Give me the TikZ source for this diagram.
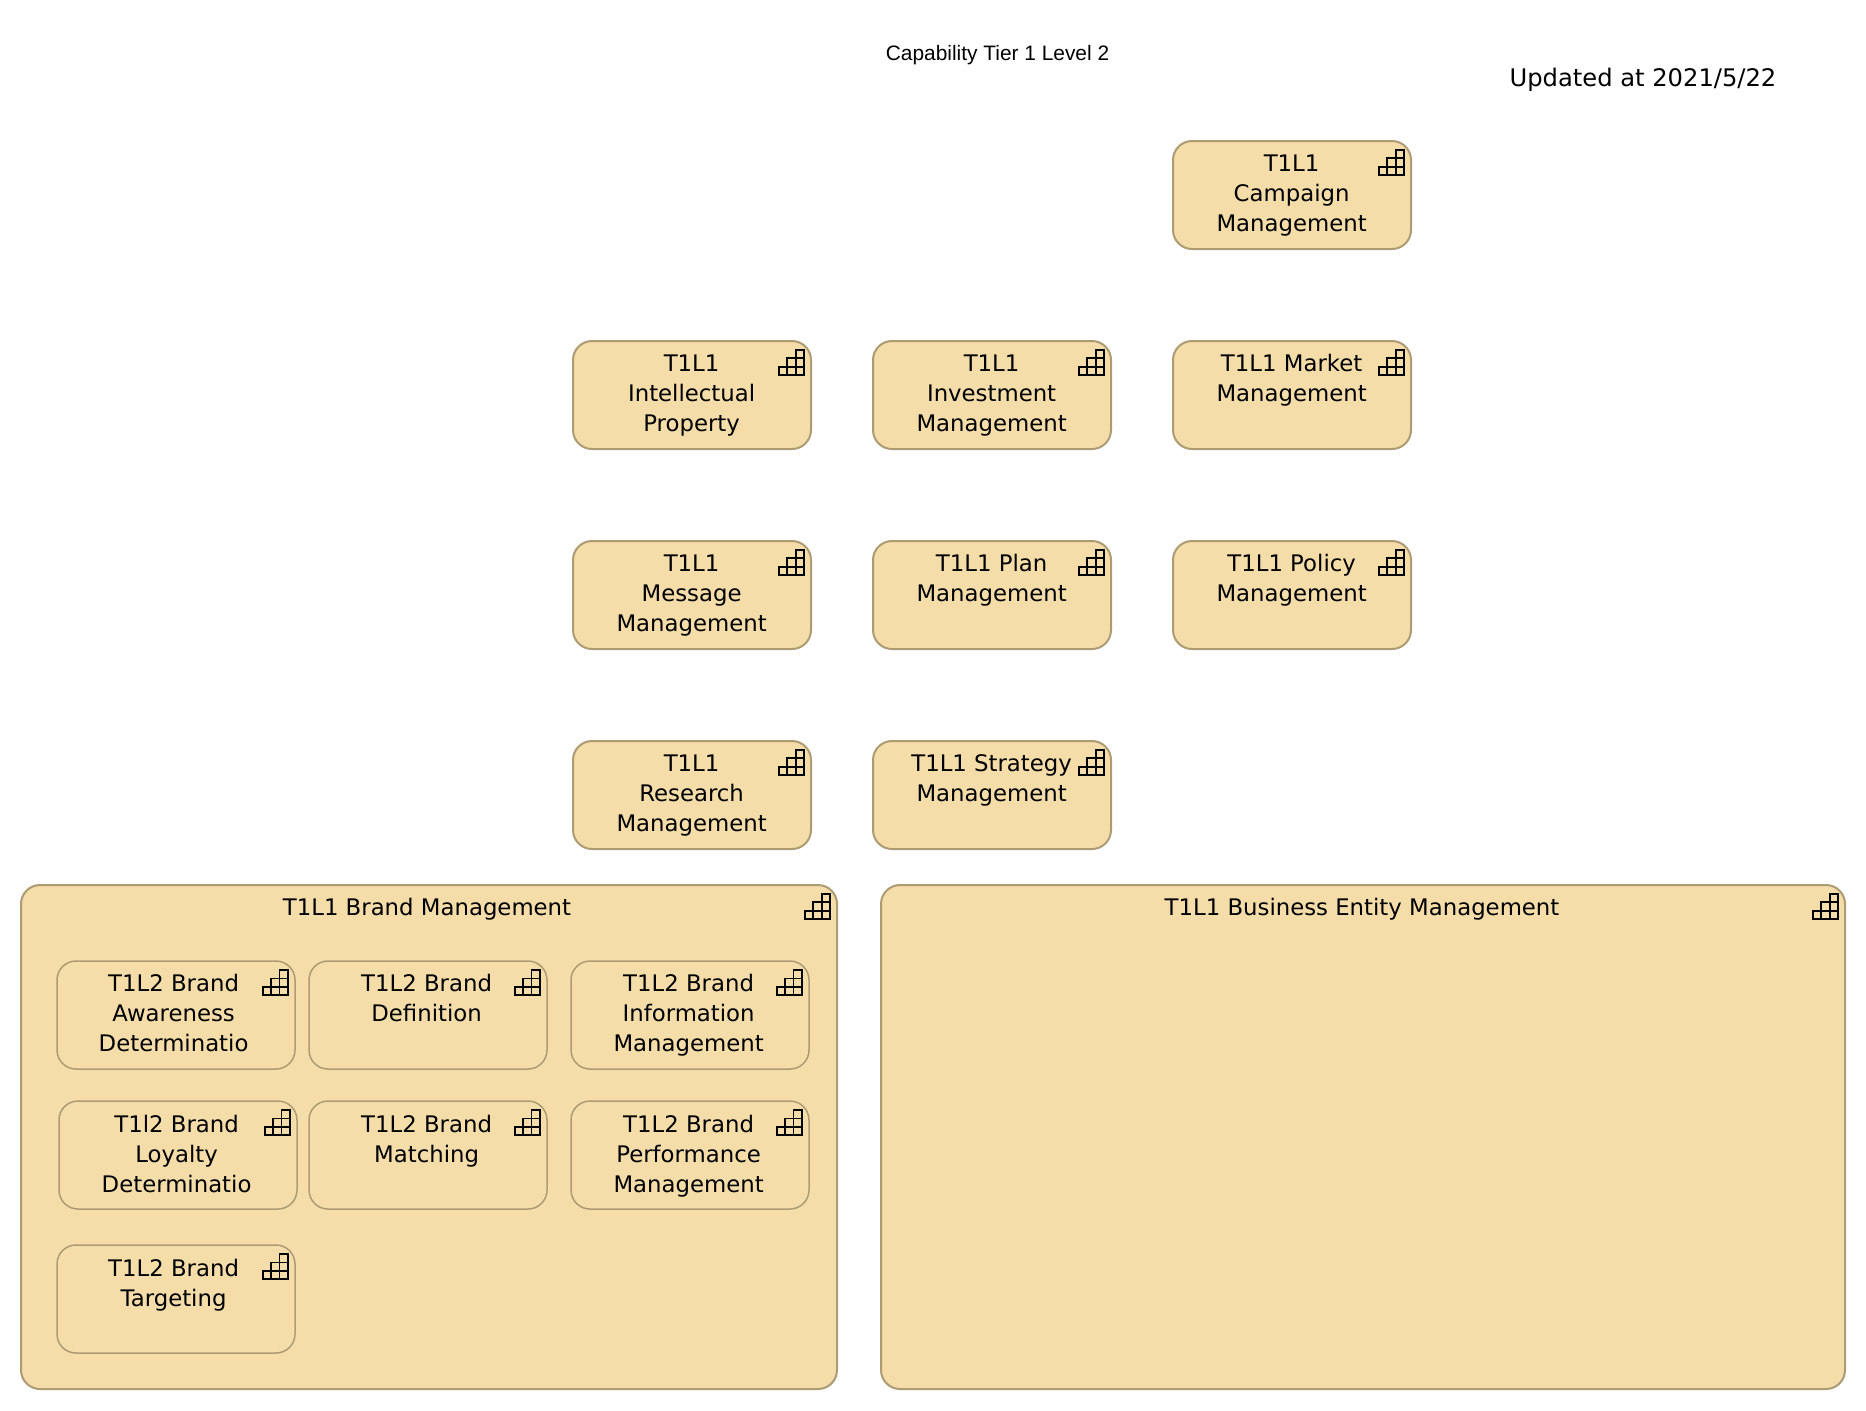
\documentclass[tikz,border=0pt]{standalone}
\usepackage{fontspec}
\setmainfont{DejaVu Sans}
\newfontfamily\titlefont{Liberation Sans}
\definecolor{capfill}{HTML}{F5DDA9}
\definecolor{capline}{HTML}{AD9B74}
\tikzset{
    capblock/.style = {draw=capline, fill=capfill, line width=1pt, rectangle, rounded corners=9.5pt,
        minimum height=54pt, minimum width=119pt, inner sep=0pt},
    capinner/.style = {capblock, line width=.75pt},
    captext/.style = {anchor=north, align=center, inner sep=0pt, yshift=-7pt, xshift=-.2pt,
        font=\fontsize{11.4}{15}\selectfont},
    stairs/.style = {draw=black, line width=.85pt, line join=miter}
}
\def\stairs{%
    +(-16.3,18.3) -- +(-8,18.3) +(-24.7,26.7) -- +(-8,26.7) +(-16.3,18.3) -- +(-16.3,35) +(-24.7,26.7) -- +(-24.7,35)
    +(-33,35) -- +(-8,35) -- +(-8,10) -- +(-16.3,10) -- +(-16.3,18.3) -- +(-24.7,18.3) -- +(-24.7,26.7) -- +(-33,26.7) -- cycle
}
\begin{document}
\begin{tikzpicture}[x=.5pt, y=-.5pt, node distance=100pt]
        \useasboundingbox (0,0) rectangle (1866,1410);
        \node [font=\titlefont\fontsize{10.45}{12}\selectfont, inner sep=0pt] (title) at (997.5,55.5) {Capability Tier 1 Level 2};
        \node [font=\fontsize{12.1}{15}\selectfont, inner sep=0pt] (updated) at (1643,79.5) {Updated at 2021/5/22};
        % top grid, right column first
        \node [capblock] (campaign) at (1292,195) {};
        \node [capblock, below of=campaign] (market) {};
        \node [capblock, below of=market] (policy) {};
        \node [capblock, left of=market, node distance=150pt] (investment) {};
        \node [capblock, left of=investment, node distance=150pt] (property) {};
        \node [capblock, left of=policy, node distance=150pt] (plan) {};
        \node [capblock, left of=plan, node distance=150pt] (message) {};
        \node [capblock, below of=plan] (strategy) {};
        \node [capblock, below of=message] (research) {};
        \node [captext] (campaigntext) at (campaign.north) {T1L1\\Campaign\\Management};
        \node [captext] (markettext) at (market.north) {T1L1 Market\\Management};
        \node [captext] (policytext) at (policy.north) {T1L1 Policy\\Management};
        \node [captext] (investmenttext) at (investment.north) {T1L1\\Investment\\Management};
        \node [captext] (propertytext) at (property.north) {T1L1\\Intellectual\\Property};
        \node [captext] (plantext) at (plan.north) {T1L1 Plan\\Management};
        \node [captext] (messagetext) at (message.north) {T1L1\\Message\\Management};
        \node [captext] (strategytext) at (strategy.north) {T1L1 Strategy\\Management};
        \node [captext] (researchtext) at (research.north) {T1L1\\Research\\Management};
        % the two large blocks
        \node [capblock, minimum width=408pt, minimum height=252pt] (brand) at (429,1137) {};
        \node [capblock, minimum width=482pt, minimum height=252pt] (entity) at (1363,1137) {};
        \node [captext, xshift=-.8pt] (brandtext) at (brand.north) {T1L1 Brand Management};
        \node [captext, xshift=-.3pt] (entitytext) at (entity.north) {T1L1 Business Entity Management};
        % blocks inside brand
        \node [capinner] (awareness) at (176,1015) {};
        \node [capinner, right of=awareness, node distance=126pt] (definition) {};
        \node [capinner, right of=definition, node distance=131pt] (information) {};
        \node [capinner] (loyalty) at (178,1155) {};
        \node [capinner, below of=definition, node distance=70pt] (matching) {};
        \node [capinner, below of=information, node distance=70pt] (performance) {};
        \node [capinner] (targeting) at (176,1299) {};
        \node [captext, xshift=-1pt] (awarenesstext) at (awareness.north) {T1L2 Brand\\Awareness\\Determinatio};
        \node [captext, xshift=-.5pt] (definitiontext) at (definition.north) {T1L2 Brand\\Definition};
        \node [captext, xshift=-.5pt] (informationtext) at (information.north) {T1L2 Brand\\Information\\Management};
        \node [captext, xshift=-.5pt] (loyaltytext) at (loyalty.north) {T1l2 Brand\\Loyalty\\Determinatio};
        \node [captext, xshift=-.5pt] (matchingtext) at (matching.north) {T1L2 Brand\\Matching};
        \node [captext, xshift=-.5pt] (performancetext) at (performance.north) {T1L2 Brand\\Performance\\Management};
        \node [captext, xshift=-1pt] (targetingtext) at (targeting.north) {T1L2 Brand\\Targeting};
        % capability icons
        \draw [stairs] (campaign.north east) \stairs;
        \draw [stairs] (market.north east) \stairs;
        \draw [stairs] (policy.north east) \stairs;
        \draw [stairs] (investment.north east) \stairs;
        \draw [stairs] (property.north east) \stairs;
        \draw [stairs] (plan.north east) \stairs;
        \draw [stairs] (message.north east) \stairs;
        \draw [stairs] (strategy.north east) \stairs;
        \draw [stairs] (research.north east) \stairs;
        \draw [stairs] (brand.north east) \stairs;
        \draw [stairs] (entity.north east) \stairs;
        \draw [stairs] (awareness.north east) \stairs;
        \draw [stairs] (definition.north east) \stairs;
        \draw [stairs] (information.north east) \stairs;
        \draw [stairs] (loyalty.north east) \stairs;
        \draw [stairs] (matching.north east) \stairs;
        \draw [stairs] (performance.north east) \stairs;
        \draw [stairs] (targeting.north east) \stairs;
    \end{tikzpicture}
\end{document}
